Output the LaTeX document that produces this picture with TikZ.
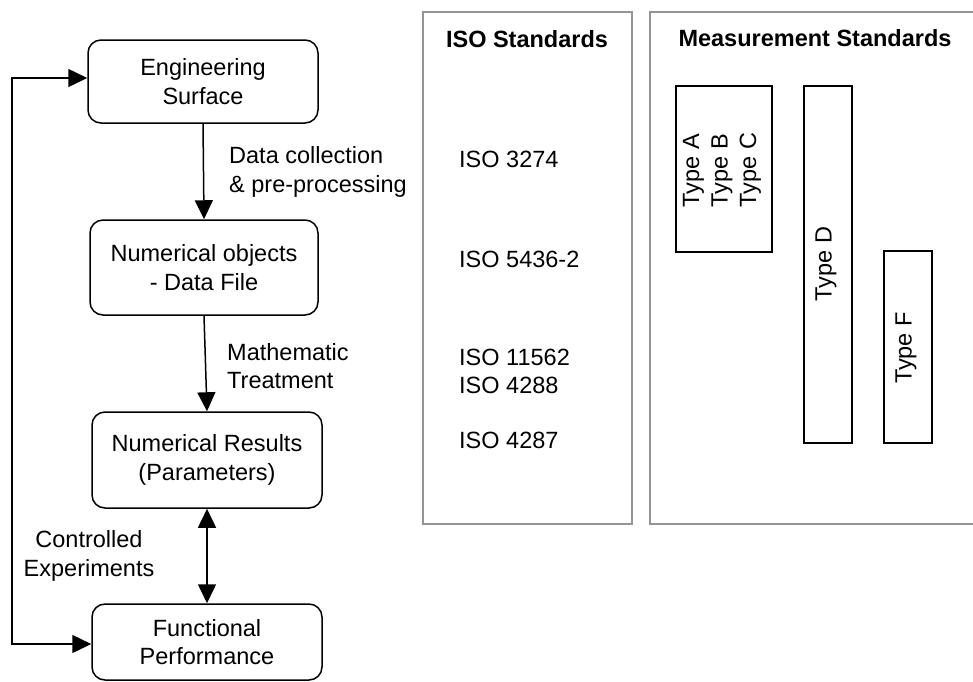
\documentclass[tikz,border=0pt]{standalone}
\usepackage{fontspec}
\setmainfont{Liberation Sans}
\usetikzlibrary{arrows.meta}
\begin{document}
\begin{tikzpicture}[x=1pt,y=-1pt,
  every node/.style={font=\fontsize{23.5}{28.5}\selectfont},
  flowbox/.style={draw=black,line width=1.5pt,rounded corners=13pt,align=center,inner sep=0pt},
  panel/.style={draw=black!42,line width=1.6pt},
  typebox/.style={draw=black,line width=1.5pt},
  arr/.style={line width=1.5pt,-{Triangle[length=19pt,width=18pt]}},
  darr/.style={line width=1.5pt,{Triangle[length=19pt,width=18pt]}-{Triangle[length=19pt,width=18pt]}},
  lbl/.style={align=left,inner sep=0pt,anchor=west},
  iso/.style={inner sep=0pt,anchor=west}]
\useasboundingbox (0,0) rectangle (973,681);
% flow boxes
\node[flowbox,minimum width=230pt,minimum height=83pt] (ES) at (203,81.5) {Engineering\\Surface};
\node[flowbox,minimum width=228pt,minimum height=95pt] (NO) at (204,267.5) {Numerical objects\\- Data File};
\node[flowbox,minimum width=230pt,minimum height=96pt] (NR) at (207,460) {Numerical Results\\(Parameters)};
\node[flowbox,minimum width=230pt,minimum height=76pt] (FP) at (207,642) {Functional\\Performance};
% connectors
\draw[arr] (ES.south) -- (NO.north);
\draw[arr] (NO.south) -- (NR.north);
\draw[darr] (NR.south) -- (FP.north);
\coordinate (fbT) at (12,78);
\coordinate (fbB) at (12,644);
\draw[darr] (ES.west |- fbT) -- (fbT) -- (fbB) -- (FP.west |- fbB);
% labels
\node[lbl] (l1) at (229,172) {Data collection\\\& pre-processing};
\node[lbl] (l2) at (227,366) {Mathematic\\Treatment};
\node[align=center,inner sep=0pt] (l3) at (89,556) {Controlled\\Experiments};
% panels
\draw[panel] (423,12) rectangle (632,524);
\draw[panel] (974,12) -- (650,12) -- (650,524) -- (974,524);
\node[font=\fontsize{23.5}{28.5}\selectfont\bfseries] (t1) at (527,39) {ISO Standards};
\node[font=\fontsize{23.5}{28.5}\selectfont\bfseries] (t2) at (815,38) {Measurement Standards};
\node[iso] (i1) at (459,159) {ISO 3274};
\node[iso] (i2) at (459,259) {ISO 5436-2};
\node[iso] (i3) at (459,357) {ISO 11562};
\node[iso] (i4) at (459,385) {ISO 4288};
\node[iso] (i5) at (459,440) {ISO 4287};
% type boxes
\draw[typebox] (676,86) rectangle (772,252);
\draw[typebox] (804,86) rectangle (852,443);
\draw[typebox] (884,251) rectangle (932,443);
\node[rotate=90,align=left,inner sep=0pt] (ta) at (722,170) {Type A\\Type B\\Type C};
\node[rotate=90,inner sep=0pt] (td) at (826,264) {Type D};
\node[rotate=90,inner sep=0pt] (tf) at (906,348) {Type F};
\end{tikzpicture}
\end{document}
